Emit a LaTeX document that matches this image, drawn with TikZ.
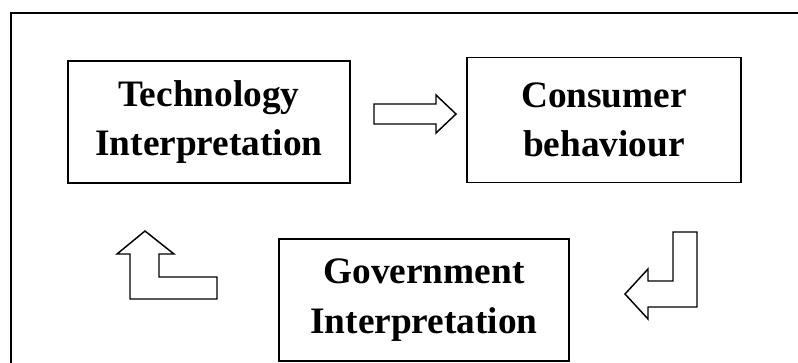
\documentclass[tikz,border=0pt]{standalone}
\usepackage{fontspec}
\setmainfont{Liberation Serif}
\usepackage{tikz}

\tikzset{
  blockbox/.style={draw, line width=1.1pt, inner sep=0pt, align=center,
    font=\fontsize{28}{37}\selectfont\bfseries},
  frameline/.style={line width=1.7pt},
  blockarrow/.style={draw, line width=1.1pt, line join=miter, fill=white}
}

\begin{document}
\begin{tikzpicture}[x=0.75pt, y=-0.75pt]
  \useasboundingbox (0,0) rectangle (798,362);
  \clip (0,0) rectangle (798,362);
  % outer frame, cut off at the right and at the bottom
  \draw[frameline] (11,13) rectangle (820,380);
  % the three stages
  \node[blockbox, minimum width=211.5pt, minimum height=91.5pt] (tech) at (209,122) {Technology\\Interpretation};
  \node[blockbox, minimum width=205.5pt, minimum height=93.75pt] (consumer) at (604,120) {Consumer\\behaviour};
  \node[blockbox, minimum width=217.5pt, minimum height=91.5pt] (govt) at (424,300) {Government\\Interpretation};
  % block arrows between them
  \draw[blockarrow] (374,104) -- (436,104) -- (436,95) -- (456,114) -- (436,133) -- (436,124) -- (374,124) -- cycle;
  \draw[blockarrow] (673,232) -- (697,232) -- (697,307) -- (648,307) -- (648,319) -- (625,294) -- (648,269) -- (648,281) -- (673,281) -- cycle;
  \draw[blockarrow] (145,231) -- (174,254) -- (159,254) -- (159,277) -- (217,277) -- (217,299) -- (130,299) -- (130,254) -- (117,254) -- cycle;
\end{tikzpicture}
\end{document}
